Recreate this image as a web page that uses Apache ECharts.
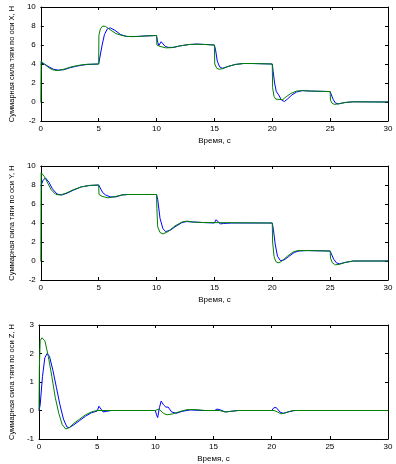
<!DOCTYPE html>
<html>
<head>
<meta charset="utf-8">
<script src="https://cdn.jsdelivr.net/npm/echarts@6/dist/echarts.min.js"></script>
<style>
  html, body { margin: 0; padding: 0; background: #fff; }
  #chart { width: 396px; height: 464px; }
</style>
</head>
<body>
<div id="chart"></div>
<script>
// данные: [время, сила]
var xBlue = [[0,4.1],[0.3,4.0],[0.7,3.7],[1.1,3.45],[1.5,3.35],[2,3.4],[2.5,3.6],[3,3.75],[3.5,3.87],[4,3.95],[5,4.0],[5.1,4.2],[5.3,6.0],[5.5,7.1],[5.75,7.7],[6,7.8],[6.4,7.55],[6.9,7.1],[7.4,6.9],[8,6.88],[9,6.95],[10,7.0],[10.1,6.3],[10.2,5.95],[10.4,6.35],[10.55,6.2],[10.75,5.85],[11,5.75],[11.5,5.75],[12,5.9],[12.8,6.05],[13.5,6.1],[14.3,6.05],[15,6.0],[15.1,5.5],[15.25,4.3],[15.45,3.7],[15.7,3.55],[16.2,3.75],[16.8,3.95],[17.5,4.05],[18.3,4.05],[20,4.0],[20.08,3.2],[20.2,2.0],[20.35,1.1],[20.55,0.75],[20.8,0.2],[21.05,0.05],[21.3,0.3],[21.7,0.75],[22.1,1.05],[22.6,1.2],[23.3,1.15],[25,1.1],[25.1,0.9],[25.25,0.3],[25.45,-0.1],[25.7,-0.2],[26.3,-0.05],[27,0.02],[30,0]];
var xGreen = [[0,0],[0.03,4.3],[0.3,4.0],[0.7,3.6],[1.0,3.4],[1.4,3.3],[2,3.45],[2.5,3.65],[3,3.8],[3.5,3.9],[4,3.97],[5,4.0],[5.02,7.0],[5.15,7.7],[5.35,8.0],[5.6,7.95],[6,7.6],[6.5,7.2],[7,7.0],[7.5,6.9],[8.5,6.9],[9,6.95],[10,7.0],[10.03,6.0],[10.3,5.85],[10.8,5.7],[11.3,5.72],[12,5.9],[12.8,6.05],[13.5,6.08],[14.2,6.05],[15,6.0],[15.03,4.0],[15.2,3.55],[15.4,3.45],[15.7,3.5],[16.2,3.75],[16.8,3.95],[17.5,4.05],[18.3,4.05],[20,4.0],[20.03,1.5],[20.15,0.6],[20.3,0.3],[20.9,0.25],[21.2,0.55],[21.6,0.9],[22.1,1.15],[22.6,1.2],[23.3,1.15],[25,1.1],[25.03,0.2],[25.15,-0.1],[25.35,-0.25],[25.7,-0.2],[26.3,-0.05],[27,0.02],[30,0]];

var yBlue = [[0,7.9],[0.2,8.5],[0.4,8.75],[0.7,8.3],[1.0,7.6],[1.4,7.05],[1.8,6.95],[2.3,7.15],[2.8,7.45],[3.5,7.8],[4.2,7.95],[5,8.0],[5.15,7.8],[5.35,7.2],[5.6,6.95],[6,6.75],[6.5,6.75],[7,6.95],[7.5,7.0],[10,7.0],[10.1,6.5],[10.3,4.5],[10.55,3.4],[10.8,3.1],[11.2,3.25],[11.6,3.6],[12.2,4.05],[12.6,4.15],[13.2,4.1],[14,4.05],[15,4.0],[15.15,4.35],[15.3,4.15],[15.5,3.9],[15.8,3.95],[16.5,4.0],[20,4.0],[20.1,3.3],[20.25,1.8],[20.45,0.5],[20.7,0.05],[21,0.1],[21.4,0.45],[21.9,0.9],[22.3,1.05],[23,1.1],[25,1.05],[25.1,0.85],[25.3,0.2],[25.55,-0.2],[25.8,-0.3],[26.3,-0.15],[27,0],[30,0]];
var yGreen = [[0,0],[0.03,9.3],[0.3,8.9],[0.6,8.2],[0.9,7.5],[1.3,7.0],[1.7,6.95],[2.2,7.15],[2.8,7.5],[3.5,7.8],[4.2,7.95],[5,8.0],[5.03,7.0],[5.3,6.8],[5.8,6.65],[6.3,6.75],[7,6.95],[7.5,7.0],[10,7.0],[10.03,5.5],[10.1,3.6],[10.3,3.0],[10.55,2.85],[11,3.1],[11.6,3.7],[12.2,4.1],[12.6,4.2],[13.2,4.1],[14,4.05],[20,4.0],[20.03,2.0],[20.15,0.5],[20.3,-0.05],[20.5,-0.2],[20.8,-0.05],[21.3,0.5],[21.8,0.95],[22.2,1.1],[23,1.1],[25,1.05],[25.03,0.3],[25.2,-0.2],[25.45,-0.4],[25.8,-0.35],[26.3,-0.15],[27,0],[30,0]];

var zBlue = [[0,0],[0.1,0.2],[0.3,1.2],[0.5,1.85],[0.7,2.0],[0.9,1.9],[1.2,1.4],[1.5,0.8],[1.8,0.2],[2.1,-0.3],[2.4,-0.58],[2.6,-0.6],[3.0,-0.5],[3.5,-0.35],[4.0,-0.2],[4.5,-0.08],[5,-0.02],[5.15,0.15],[5.3,0.1],[5.5,-0.05],[5.8,-0.03],[6.2,0],[10,0],[10.1,-0.15],[10.2,-0.25],[10.35,0.1],[10.5,0.33],[10.7,0.2],[10.9,0.12],[11.1,0.12],[11.4,-0.05],[11.8,-0.1],[12.3,-0.03],[13,0.02],[14,0],[15.1,0],[15.3,0.05],[15.6,0.02],[16,-0.05],[16.5,-0.03],[17,0],[20,0],[20.2,0.1],[20.4,0.1],[20.7,-0.05],[21,-0.1],[21.4,-0.05],[22,0],[30,0]];
var zGreen = [[0,0],[0.03,1.5],[0.1,2.45],[0.25,2.55],[0.5,2.45],[0.8,1.9],[1.1,1.2],[1.4,0.45],[1.7,-0.1],[2.0,-0.5],[2.3,-0.65],[2.6,-0.6],[3.0,-0.45],[3.5,-0.3],[4.0,-0.15],[4.5,-0.05],[5,0],[10,0],[10.3,0.05],[10.7,-0.1],[11,-0.15],[11.5,-0.12],[12,-0.05],[12.7,0.03],[13.5,0.03],[14.3,0],[15.5,0],[16,-0.05],[16.5,-0.03],[17.2,0],[20.2,0],[20.5,-0.05],[20.8,-0.12],[21.2,-0.08],[21.8,0],[30,0]];

var yNames = ['Суммарная сила тяги по оси X, Н', 'Суммарная сила тяги по оси Y, Н', 'Суммарная сила тяги по оси Z, Н'];
var yRanges = [[-2, 10, 2], [-2, 10, 2], [-1, 3, 1]];
var xName = 'Время, с';

var font = 'Liberation Sans, Arial, sans-serif';
var tops = [7, 166, 325];
var grid = [], xAxis = [], yAxis = [], series = [];
var blues = [xBlue, yBlue, zBlue], greens = [xGreen, yGreen, zGreen];

for (var i = 0; i < 3; i++) {
    grid.push({ left: 28, right: 8, top: tops[i], height: 114 });
    var lineSt = { show: true, onZero: false, lineStyle: { color: '#000', width: 1 } };
    var tickSt = { show: true, inside: true, length: 3, lineStyle: { color: '#000' } };
    // нижняя и верхняя оси X
    xAxis.push({
        type: 'value', gridIndex: i, min: 0, max: 30, interval: 5, position: 'bottom',
        name: xName, nameLocation: 'middle', nameGap: 16,
        nameTextStyle: { fontSize: 8, color: '#000', fontFamily: font },
        axisLine: lineSt, axisTick: tickSt,
        axisLabel: { fontSize: 8, color: '#000', margin: 4, fontFamily: font },
        splitLine: { show: false }
    });
    xAxis.push({
        type: 'value', gridIndex: i, min: 0, max: 30, interval: 5, position: 'top',
        axisLine: lineSt, axisTick: tickSt,
        axisLabel: { show: false }, splitLine: { show: false }
    });
    // левая и правая оси Y
    yAxis.push({
        type: 'value', gridIndex: i, min: yRanges[i][0], max: yRanges[i][1], interval: yRanges[i][2], position: 'left',
        name: yNames[i], nameLocation: 'middle', nameGap: 18, nameRotate: 90,
        nameTextStyle: { fontSize: 7.5, color: '#000', fontFamily: font },
        axisLine: lineSt, axisTick: tickSt,
        axisLabel: { fontSize: 8, color: '#000', margin: 5, fontFamily: font },
        splitLine: { show: false }
    });
    yAxis.push({
        type: 'value', gridIndex: i, min: yRanges[i][0], max: yRanges[i][1], interval: yRanges[i][2], position: 'right',
        axisLine: lineSt, axisTick: tickSt,
        axisLabel: { show: false }, splitLine: { show: false }
    });
    series.push({
        type: 'line', xAxisIndex: 2 * i, yAxisIndex: 2 * i, data: blues[i],
        showSymbol: false, lineStyle: { color: '#0000ff', width: 1 }
    });
    series.push({
        type: 'line', xAxisIndex: 2 * i, yAxisIndex: 2 * i, data: greens[i],
        showSymbol: false, lineStyle: { color: '#008000', width: 1 }
    });
}

var chart = echarts.init(document.getElementById('chart'));
chart.setOption({
    animation: false,
    backgroundColor: '#fff',
    grid: grid,
    xAxis: xAxis,
    yAxis: yAxis,
    series: series
});
</script>
</body>
</html>
